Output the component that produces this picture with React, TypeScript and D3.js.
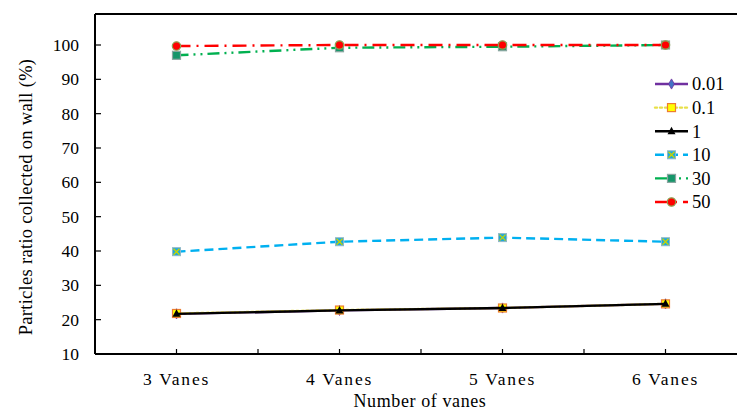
import React, { useEffect, useRef } from 'react';
import * as d3 from 'd3';

const categories = ['3 Vanes', '4 Vanes', '5 Vanes', '6 Vanes'];
const yTicks = [10, 20, 30, 40, 50, 60, 70, 80, 90, 100];

const s001 = [21.7, 22.7, 23.4, 24.6];
const s01 = [21.8, 22.8, 23.4, 24.6];
const s1 = [21.7, 22.7, 23.4, 24.6];
const s10 = [39.8, 42.7, 43.9, 42.7];
const s30 = [97.0, 99.2, 99.5, 100];
const s50 = [99.7, 100, 100, 100];

const seriesNames = ['0.01', '0.1', '1', '10', '30', '50'];

type Style = {
  line: string;
  dash: string | null;
  marker: 'diamond' | 'square' | 'triangle' | 'xsquare' | 'circle';
  fill: string;
  stroke: string;
};

const styles: Style[] = [
  { line: '#7030A0', dash: null, marker: 'diamond', fill: '#4472C4', stroke: '#7030A0' },
  { line: '#E8E04A', dash: '2 3', marker: 'square', fill: '#FFFF00', stroke: '#ED7D31' },
  { line: '#000000', dash: null, marker: 'triangle', fill: '#000000', stroke: '#000000' },
  { line: '#00B0F0', dash: '9 5', marker: 'xsquare', fill: '#1FA9D9', stroke: '#C8D400' },
  { line: '#00B050', dash: '12 5 2 5 2 5', marker: 'square', fill: '#16966A', stroke: '#8AA6A0' },
  { line: '#FF0000', dash: '14 6 2 6', marker: 'circle', fill: '#FF0000', stroke: '#8F9F50' },
];

const FONT = "'Liberation Serif', 'Times New Roman', 'DejaVu Serif', serif";

function drawMarker(g: d3.Selection<SVGGElement, unknown, null, undefined>, st: Style, x: number, y: number) {
  if (st.marker === 'diamond') {
    g.append('path')
      .attr('d', d3.symbol(d3.symbolDiamond, 30)())
      .attr('transform', `translate(${x},${y})`)
      .attr('fill', st.fill)
      .attr('stroke', st.stroke)
      .attr('stroke-width', 0.8);
  } else if (st.marker === 'square') {
    g.append('rect')
      .attr('x', x - 4).attr('y', y - 4).attr('width', 8).attr('height', 8)
      .attr('fill', st.fill)
      .attr('stroke', st.stroke)
      .attr('stroke-width', 1.2);
  } else if (st.marker === 'triangle') {
    g.append('path')
      .attr('d', `M${x},${y - 4.5}L${x + 4},${y + 3}L${x - 4},${y + 3}Z`)
      .attr('fill', st.fill);
  } else if (st.marker === 'xsquare') {
    g.append('rect')
      .attr('x', x - 4).attr('y', y - 4).attr('width', 8).attr('height', 8)
      .attr('fill', st.fill)
      .attr('stroke', '#8FB8C8')
      .attr('stroke-width', 1);
    g.append('path')
      .attr('d', `M${x - 3},${y - 3}L${x + 3},${y + 3}M${x + 3},${y - 3}L${x - 3},${y + 3}`)
      .attr('stroke', st.stroke)
      .attr('stroke-width', 1.3);
  } else {
    g.append('circle')
      .attr('cx', x).attr('cy', y).attr('r', 4.2)
      .attr('fill', st.fill)
      .attr('stroke', st.stroke)
      .attr('stroke-width', 1.2);
  }
}

const App: React.FC = () => {
  const svgRef = useRef<SVGSVGElement>(null);

  useEffect(() => {
    if (!svgRef.current) return;
    const width = 737;
    const svg = d3.select(svgRef.current);
    svg.selectAll('*').remove();

    const left = 95;
    const bottom = 354;
    const top = 14;

    const x = d3.scaleBand<string>().domain(categories).range([left, left + 4 * 163]);
    const y = d3.scaleLinear().domain([10, 100]).range([bottom, 45]);
    const cx = (c: string) => (x(c) || 0) + x.bandwidth() / 2;

    // Frame: top border, left and bottom axes
    svg.append('line')
      .attr('x1', left).attr('x2', width).attr('y1', top).attr('y2', top)
      .attr('stroke', '#000').attr('stroke-width', 2);
    svg.append('line')
      .attr('x1', left).attr('x2', left).attr('y1', top).attr('y2', bottom)
      .attr('stroke', '#000').attr('stroke-width', 2);
    svg.append('line')
      .attr('x1', left).attr('x2', width).attr('y1', bottom).attr('y2', bottom)
      .attr('stroke', '#000').attr('stroke-width', 2);

    // y ticks
    const yAxis = svg.append('g');
    yTicks.forEach(t => {
      yAxis.append('line')
        .attr('x1', left).attr('x2', left + 6).attr('y1', y(t)).attr('y2', y(t))
        .attr('stroke', '#000').attr('stroke-width', 1.2);
      yAxis.append('text')
        .attr('x', 79).attr('y', y(t)).attr('dy', '0.35em')
        .attr('text-anchor', 'end')
        .style('font-family', FONT).style('font-size', '17.5px')
        .text(t);
    });

    // x ticks: at category centers and boundaries
    const xAxis = svg.append('g');
    const step = x.step();
    for (let i = 1; i <= 8; i++) {
      const px = left + (i * step) / 2;
      if (px > width) break;
      xAxis.append('line')
        .attr('x1', px).attr('x2', px).attr('y1', bottom).attr('y2', bottom - 5)
        .attr('stroke', '#000').attr('stroke-width', 1.2);
    }
    categories.forEach(c => {
      xAxis.append('text')
        .attr('x', cx(c)).attr('y', 385)
        .attr('text-anchor', 'middle')
        .style('font-family', FONT).style('font-size', '17.5px')
        .attr('letter-spacing', 1.8)
        .text(c);
    });

    // axis titles
    svg.append('text')
      .attr('x', 420).attr('y', 407)
      .attr('text-anchor', 'middle')
      .style('font-family', FONT).style('font-size', '18px')
      .attr('letter-spacing', 0.6)
      .text('Number of vanes');
    svg.append('text')
      .attr('transform', `translate(32,197) rotate(-90)`)
      .attr('text-anchor', 'middle')
      .style('font-family', FONT).style('font-size', '18.5px')
      .attr('letter-spacing', 0.3)
      .text('Particles ratio collected on wall (%)');

    // series
    const allSeries = [s001, s01, s1, s10, s30, s50];
    const line = d3.line<number>()
      .x((_d, i) => cx(categories[i]))
      .y(d => y(d));

    allSeries.forEach((vals, si) => {
      const st = styles[si];
      const g = svg.append('g');
      g.append('path')
        .datum(vals)
        .attr('d', line)
        .attr('fill', 'none')
        .attr('stroke', st.line)
        .attr('stroke-width', 2.4)
        .attr('stroke-dasharray', st.dash)
        .attr('stroke-linecap', st.dash === '2 3' ? 'round' : 'butt');
      vals.forEach((v, i) => drawMarker(g, st, cx(categories[i]), y(v)));
    });

    // legend
    const lg = svg.append('g');
    const rowY = (i: number) => 84 + i * 23.6;
    seriesNames.forEach((name, i) => {
      const st = styles[i];
      const yy = rowY(i);
      lg.append('line')
        .attr('x1', 655).attr('x2', 688).attr('y1', yy).attr('y2', yy)
        .attr('stroke', st.line)
        .attr('stroke-width', 2.4)
        .attr('stroke-dasharray', st.dash)
        .attr('stroke-linecap', st.dash === '2 3' ? 'round' : 'butt');
      drawMarker(lg, st, 671.5, yy);
      lg.append('text')
        .attr('x', 692).attr('y', yy).attr('dy', '0.35em')
        .style('font-family', FONT).style('font-size', '18.5px')
        .text(name);
    });
  }, []);

  return (
    <svg
      ref={svgRef}
      width={737}
      height={410}
      style={{ position: 'absolute', left: 0, top: 0, background: '#fff', fontFamily: FONT }}
    />
  );
};

export default App;
